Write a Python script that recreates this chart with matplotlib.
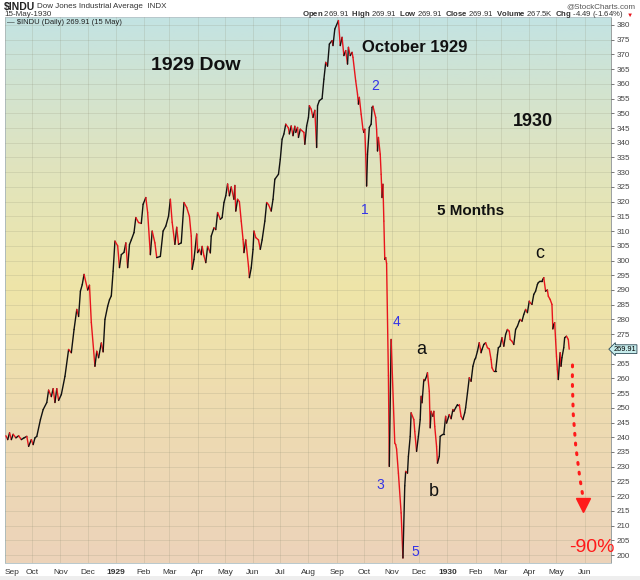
import numpy as np
import pandas as pd
import matplotlib
matplotlib.use("Agg")
import matplotlib.pyplot as plt
import matplotlib.dates as mdates
import matplotlib.transforms as mtransforms
from matplotlib.collections import LineCollection
from matplotlib.colors import LinearSegmentedColormap

plt.rcParams['font.family'] = ['Liberation Sans', 'DejaVu Sans']
plt.rcParams['mathtext.fontset'] = 'custom'
plt.rcParams['mathtext.rm'] = 'Liberation Sans'
plt.rcParams['mathtext.bf'] = 'Liberation Sans:bold'

# daily closes
dates = [
    '1928-09-02', '1928-09-04', '1928-09-06', '1928-09-08', '1928-09-10', '1928-09-13', '1928-09-16',
    '1928-09-19', '1928-09-22', '1928-09-25', '1928-09-27', '1928-09-30',
    '1928-10-02', '1928-10-04', '1928-10-06', '1928-10-10', '1928-10-13', '1928-10-17', '1928-10-19',
    '1928-10-22', '1928-10-24', '1928-10-26', '1928-10-28', '1928-10-30',
    '1928-11-02', '1928-11-06', '1928-11-10', '1928-11-13', '1928-11-16', '1928-11-19', '1928-11-21',
    '1928-11-23', '1928-11-25', '1928-11-27',
    '1928-12-01', '1928-12-03', '1928-12-05', '1928-12-09', '1928-12-11', '1928-12-13', '1928-12-16',
    '1928-12-18', '1928-12-20', '1928-12-23', '1928-12-25', '1928-12-27', '1928-12-29', '1928-12-31',
    '1929-01-03', '1929-01-05', '1929-01-07', '1929-01-10', '1929-01-12', '1929-01-14', '1929-01-16',
    '1929-01-18', '1929-01-21', '1929-01-23', '1929-01-26', '1929-01-29', '1929-01-31',
    '1929-02-03', '1929-02-05', '1929-02-08', '1929-02-10', '1929-02-13', '1929-02-15', '1929-02-19',
    '1929-02-22', '1929-02-25', '1929-02-28',
    '1929-03-02', '1929-03-04', '1929-03-07', '1929-03-09', '1929-03-11', '1929-03-14', '1929-03-17',
    '1929-03-20', '1929-03-23', '1929-03-25', '1929-03-26', '1929-03-28', '1929-03-31',
    '1929-04-01', '1929-04-03', '1929-04-05', '1929-04-06', '1929-04-08', '1929-04-10', '1929-04-12',
    '1929-04-15', '1929-04-16', '1929-04-19', '1929-04-21', '1929-04-23', '1929-04-26', '1929-04-28',
    '1929-04-30',
    '1929-05-02', '1929-05-04', '1929-05-06', '1929-05-08', '1929-05-11', '1929-05-12', '1929-05-13',
    '1929-05-15', '1929-05-17', '1929-05-19', '1929-05-21', '1929-05-22', '1929-05-24', '1929-05-27',
    '1929-05-28', '1929-05-30',
    '1929-06-01', '1929-06-02', '1929-06-04', '1929-06-07', '1929-06-09', '1929-06-11', '1929-06-14',
    '1929-06-16', '1929-06-18', '1929-06-21', '1929-06-23', '1929-06-25', '1929-06-29',
    '1929-07-01', '1929-07-03', '1929-07-05', '1929-07-07', '1929-07-10', '1929-07-11', '1929-07-13',
    '1929-07-15', '1929-07-17', '1929-07-18', '1929-07-20', '1929-07-21', '1929-07-23', '1929-07-27',
    '1929-07-28', '1929-07-30',
    '1929-08-01', '1929-08-02', '1929-08-04', '1929-08-06', '1929-08-08', '1929-08-10', '1929-08-11',
    '1929-08-13', '1929-08-16', '1929-08-18', '1929-08-20', '1929-08-22', '1929-08-24', '1929-08-27',
    '1929-08-28', '1929-08-30',
    '1929-09-03', '1929-09-05', '1929-09-07', '1929-09-09', '1929-09-11', '1929-09-13', '1929-09-14',
    '1929-09-16', '1929-09-18', '1929-09-19', '1929-09-22', '1929-09-24', '1929-09-25', '1929-09-26',
    '1929-09-28', '1929-09-30',
    '1929-10-01', '1929-10-02', '1929-10-03', '1929-10-04', '1929-10-05', '1929-10-07', '1929-10-09',
    '1929-10-10', '1929-10-11', '1929-10-14', '1929-10-15', '1929-10-16', '1929-10-17', '1929-10-19',
    '1929-10-20', '1929-10-21', '1929-10-22', '1929-10-23', '1929-10-24', '1929-10-25', '1929-10-26',
    '1929-10-28', '1929-10-29', '1929-10-31',
    '1929-11-04', '1929-11-05', '1929-11-06', '1929-11-08', '1929-11-11', '1929-11-13', '1929-11-15',
    '1929-11-16', '1929-11-18', '1929-11-19', '1929-11-21', '1929-11-22', '1929-11-25', '1929-11-26',
    '1929-11-28', '1929-11-30',
    '1929-12-02', '1929-12-03', '1929-12-04', '1929-12-06', '1929-12-07', '1929-12-09', '1929-12-10',
    '1929-12-12', '1929-12-13', '1929-12-14', '1929-12-16', '1929-12-17', '1929-12-18', '1929-12-20',
    '1929-12-21', '1929-12-23', '1929-12-24', '1929-12-27', '1929-12-28', '1929-12-30', '1929-12-31',
    '1930-01-03', '1930-01-05', '1930-01-07', '1930-01-08', '1930-01-10', '1930-01-12', '1930-01-14',
    '1930-01-16', '1930-01-18', '1930-01-20', '1930-01-21', '1930-01-23', '1930-01-25', '1930-01-27',
    '1930-01-29', '1930-01-31',
    '1930-02-01', '1930-02-03', '1930-02-05', '1930-02-07', '1930-02-08', '1930-02-10', '1930-02-12',
    '1930-02-14', '1930-02-16', '1930-02-18', '1930-02-19', '1930-02-21', '1930-02-23', '1930-02-25',
    '1930-02-26', '1930-02-28',
    '1930-03-02', '1930-03-04', '1930-03-06', '1930-03-08', '1930-03-10', '1930-03-11', '1930-03-13',
    '1930-03-15', '1930-03-17', '1930-03-19', '1930-03-21', '1930-03-22', '1930-03-24', '1930-03-26',
    '1930-03-28', '1930-03-30',
    '1930-04-01', '1930-04-02', '1930-04-04', '1930-04-06', '1930-04-08', '1930-04-10', '1930-04-11',
    '1930-04-13', '1930-04-15', '1930-04-16', '1930-04-17', '1930-04-19', '1930-04-21', '1930-04-22',
    '1930-04-24', '1930-04-26', '1930-04-27', '1930-04-28', '1930-04-29', '1930-04-30',
    '1930-05-01', '1930-05-02', '1930-05-03', '1930-05-05', '1930-05-06', '1930-05-07', '1930-05-09',
    '1930-05-10', '1930-05-12', '1930-05-14', '1930-05-15',
]

closes = [
    240.5, 239.2, 241.5, 239.2, 241.0, 239.8, 240.5, 239.2, 239.8, 240.3, 236.9, 239.2,
    237.5, 239.8, 240.3, 246.0, 249.4, 251.8, 256.0, 253.8, 256.5, 251.8, 256.5, 252.5,
    254.5, 260.7, 269.8, 268.7, 276.6, 283.4, 281.0, 289.6, 291.8, 295.3,
    290.0, 291.6, 279.0, 264.1, 269.2, 267.0, 272.0, 269.0, 280.0, 284.5, 286.7, 288.0, 296.4, 306.6,
    305.0, 297.6, 302.0, 302.8, 306.0, 297.6, 305.4, 307.0, 309.5, 314.6, 312.9, 312.6, 319.1,
    321.4, 316.3, 302.0, 310.0, 306.0, 301.0, 301.4, 310.0, 311.7, 315.1,
    320.8, 313.0, 305.5, 311.3, 305.5, 306.0, 319.7, 318.0, 315.0, 308.3, 297.0, 300.4, 309.0,
    302.7, 303.8, 302.0, 304.8, 301.6, 299.3, 304.8, 302.6, 308.3, 311.1, 310.5, 316.3, 314.0, 314.6,
    319.7,
    322.0, 326.0, 322.0, 325.0, 320.8, 325.5, 316.8, 320.8, 320.0, 313.4, 307.2, 302.7, 307.0, 298.1,
    294.2, 297.5,
    303.8, 310.0, 307.8, 307.0, 303.8, 307.0, 313.4, 319.7, 319.0, 316.8, 320.8, 327.6, 329.3,
    334.4, 341.2, 343.0, 346.3, 345.0, 343.0, 345.7, 342.4, 345.6, 343.5, 345.2, 341.8, 344.6, 343.5,
    339.5, 345.7,
    348.6, 352.6, 351.4, 348.6, 351.0, 338.4, 352.6, 354.3, 355.0, 361.6, 367.3, 366.0, 373.5, 374.7,
    373.0, 378.6,
    381.5, 373.0, 375.8, 369.6, 371.3, 366.7, 372.4, 369.6, 370.7, 369.0, 361.0, 356.5, 353.1, 355.4,
    349.7, 344.6,
    343.5, 344.6, 336.1, 325.3, 336.1, 345.2, 346.3, 352.0, 352.4, 348.6, 344.6, 337.2, 341.8, 336.1,
    329.3, 321.4, 325.9, 313.4, 300.4, 301.0, 299.0, 261.0, 230.1, 273.2,
    238.0, 237.5, 236.0, 227.8, 214.3, 199.0, 223.5, 228.4, 227.8, 233.5, 240.3, 248.3, 246.0, 242.0,
    235.2, 240.3,
    246.0, 253.9, 251.7, 259.6, 259.2, 260.7, 261.9, 255.6, 243.2, 248.8, 247.1, 248.8, 243.7, 236.9,
    231.2, 233.5, 240.3, 241.0, 241.0, 247.1, 244.8,
    247.7, 246.3, 249.4, 248.8, 250.0, 251.1, 251.1, 247.1, 246.0, 248.3, 250.0, 255.0, 260.2, 259.0,
    264.1, 266.4,
    266.9, 269.2, 272.1, 268.7, 269.8, 271.5, 272.1, 270.4, 270.0, 266.4, 263.6, 262.4, 262.4, 268.0,
    270.4, 270.9,
    273.8, 270.9, 274.9, 276.6, 276.0, 273.2, 272.6, 271.5, 276.6, 277.7, 279.4, 280.0, 279.4, 281.7,
    283.4, 282.3,
    286.2, 285.7, 285.1, 288.5, 289.6, 291.9, 292.5, 293.0, 293.0, 293.6, 294.2, 289.6, 290.0, 287.9,
    286.8, 285.1, 276.8, 278.3, 278.9, 273.2,
    267.5, 263.0, 259.6, 268.7, 264.1, 267.0, 270.4, 273.8, 274.3, 273.2, 269.91,
]

month_labels = ['Sep', 'Oct', 'Nov', 'Dec', '1929', 'Feb', 'Mar', 'Apr', 'May', 'Jun', 'Jul', 'Aug',
                'Sep', 'Oct', 'Nov', 'Dec', '1930', 'Feb', 'Mar', 'Apr', 'May', 'Jun']
month_starts = pd.date_range('1928-09-01', '1930-06-01', freq='MS')

last_close = 269.91

df = pd.DataFrame({'date': pd.to_datetime(dates), 'close': closes})
x = mdates.date2num(df['date'])
y = df['close'].values

fig = plt.figure(figsize=(6.4, 5.8), dpi=100)
W, H = 640, 580
ax = fig.add_axes([5 / W, 17 / H, 606 / W, 546 / H])

# background gradient, peach at bottom -> yellow -> pale teal at top
cmap = LinearSegmentedColormap.from_list('bg', [
    (0.0, '#ecd3ba'), (0.3, '#eedcb0'), (0.5, '#efe5a8'),
    (0.72, '#e1e4bd'), (0.87, '#d2e3d0'), (1.0, '#c3e3e3')])
grad = np.linspace(0, 1, 256).reshape(-1, 1)
ax.imshow(grad, extent=[0, 1, 0, 1], transform=ax.transAxes, origin='lower',
          cmap=cmap, aspect='auto', zorder=0)

# price line: black on up days, red on down days
pts = np.column_stack([x, y])
segs = np.stack([pts[:-1], pts[1:]], axis=1)
cols = np.where(np.diff(y) < 0, '#e8141c', '#111111')
lc = LineCollection(segs, colors=cols, linewidths=1.0, zorder=3, capstyle='round', joinstyle='round')
ax.add_collection(lc)

ax.set_xlim(mdates.date2num(pd.Timestamp('1928-09-01')), mdates.date2num(pd.Timestamp('1930-06-30')))
ax.set_ylim(197.3, 382.7)

ax.set_xticks(mdates.date2num(month_starts))
ax.set_xticklabels(month_labels)
xlabs = ax.get_xticklabels()
for lab in xlabs:
    if lab.get_text() in ('1929', '1930'):
        lab.set_fontweight('bold')
xlabs[0].set_horizontalalignment('left')
yticks = np.arange(200, 381, 5)
ax.set_yticks(yticks)
ax.yaxis.tick_right()
ax.tick_params(axis='x', length=0, pad=4, labelsize=6, colors='#333333')
ax.tick_params(axis='y', length=2, width=0.5, pad=2, labelsize=5.8, colors='#444444')
# the last-price box covers the 270 label
for t, lab in zip(yticks, ax.get_yticklabels()):
    if t == 270:
        lab.set_visible(False)
ax.grid(True, color='#8a8a70', alpha=0.22, lw=0.6)
ax.set_axisbelow(False)
for s in ax.spines.values():
    s.set_color('#b8c8cc')
    s.set_linewidth(0.7)
ax.spines['right'].set_color('#9aa0a0')

# last price marker on the axis
trans = mtransforms.blended_transform_factory(ax.transAxes, ax.transData)
ax.text(1.004, last_close, f'{last_close:.2f}', transform=trans, fontsize=5.3, va='center', ha='left',
        bbox=dict(boxstyle='larrow,pad=0.12', fc='#c6ecec', ec='#2c4a55', lw=0.6), zorder=6, clip_on=False)

# legend line inside the plot
ax.text(0.003, 0.997, '\u2014 \\$INDU (Daily) 269.91 (15 May)', transform=ax.transAxes,
        fontsize=5.5, va='top', ha='left', color='#222222', zorder=5)

# header
fig.text(4 / W, 1 - 7 / H, '\\$INDU', fontsize=7.5, fontweight='bold', va='center', color='#222222')
fig.text(37 / W, 1 - 7 / H, 'Dow Jones Industrial Average  INDX', fontsize=5.8, va='center', color='#333333')
fig.text(4 / W, 1 - 15 / H, '15-May-1930', fontsize=5.8, va='center', color='#333333')
fig.text(635 / W, 1 - 7 / H, '@StockCharts.com', fontsize=5.8, va='center', ha='right', color='#555555')
fig.text(624 / W, 1 - 15 / H,
         r'$\mathbf{Open}$ 269.91  $\mathbf{High}$ 269.91  $\mathbf{Low}$ 269.91  $\mathbf{Close}$ 269.91  '
         r'$\mathbf{Volume}$ 267.5K  $\mathbf{Chg}$ -4.49 (-1.64%)',
         fontsize=5.6, va='center', ha='right', color='#333333')
fig.text(627 / W, 1 - 15 / H, '\u25bc', fontsize=4.5, va='center', ha='left', color='#e8141c')

# annotations
def ann(px, py, s, **kw):
    ax.text((px - 5) / 606, (563 - py) / 546, s, transform=ax.transAxes, ha='center', va='center',
            zorder=7, **kw)

ann(196, 65, '1929 Dow', fontsize=14, fontweight='bold', color='#111111')
ann(415, 47, 'October 1929', fontsize=12, fontweight='bold', color='#111111')
ann(533, 122, '1930', fontsize=13, fontweight='bold', color='#111111')
ann(471, 211, '5 Months', fontsize=11, fontweight='bold', color='#111111')
blue = '#3434e6'
ann(375, 86, '2', fontsize=10, color=blue)
ann(365, 210, '1', fontsize=10, color=blue)
ann(397, 322, '4', fontsize=10, color=blue)
ann(380, 485, '3', fontsize=10, color=blue)
ann(415, 552, '5', fontsize=10, color=blue)
ann(421, 349, 'a', fontsize=13, color='#111111')
ann(434, 492, 'b', fontsize=13, color='#111111')
ann(540, 253, 'c', fontsize=13, color='#111111')
ann(592, 547, '-90%', fontsize=14, color='#ff1a1a')

# dotted projection arrow
ax.annotate('', xy=((582.5 - 5) / 606, (563 - 494) / 546), xytext=((572.5 - 5) / 606, (563 - 365) / 546),
            xycoords='axes fraction', textcoords='axes fraction',
            arrowprops=dict(arrowstyle='-', color='#ff1a1a', lw=2.2, ls=(0, (0.6, 2.6)),
                            connectionstyle='arc3,rad=0.05', shrinkA=0, shrinkB=0), zorder=7)
ax.plot([(583 - 5) / 606], [(563 - 505) / 546], marker='v', markersize=10, color='#ff1a1a',
        transform=ax.transAxes, clip_on=False, zorder=7)

# light strip at the very bottom
fig.patches.append(plt.Rectangle((0, 0), 1, 4 / H, transform=fig.transFigure, fc='#eeeeee', ec='none'))

fig.savefig('out.png', dpi=100)
